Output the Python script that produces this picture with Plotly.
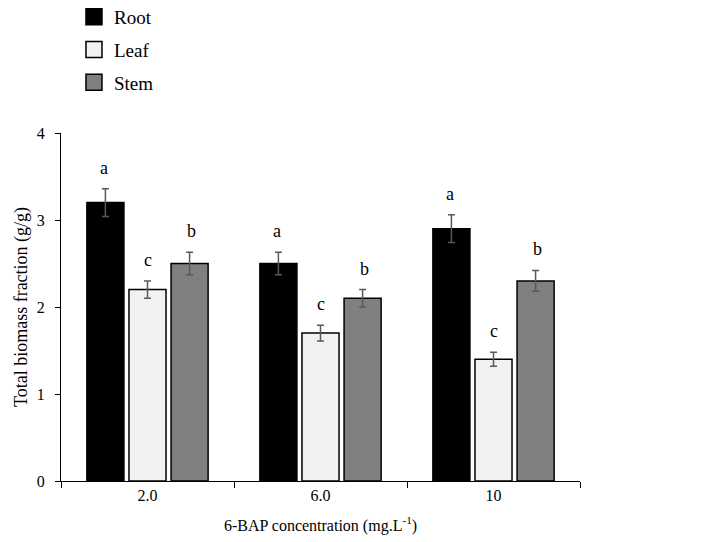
import plotly.graph_objects as go

# 6-BAP concentrations (mg/L)
concentrations = ["2.0", "6.0", "10"]

root = [3.2, 2.5, 2.9]
leaf = [2.2, 1.7, 1.4]
stem = [2.5, 2.1, 2.3]

root_err = [0.16, 0.13, 0.16]
leaf_err = [0.10, 0.09, 0.08]
stem_err = [0.13, 0.10, 0.12]

root_letters = ["a", "a", "a"]
leaf_letters = ["c", "c", "c"]
stem_letters = ["b", "b", "b"]

font = "Liberation Serif"

series = [
    ("Root", root, root_err, root_letters, "#000000", -1),
    ("Leaf", leaf, leaf_err, leaf_letters, "#f2f2f2", 0),
    ("Stem", stem, stem_err, stem_letters, "#808080", 1),
]

fig = go.Figure()

for name, vals, errs, letters, color, pos in series:
    fig.add_trace(go.Bar(
        x=concentrations, y=vals, name=name, showlegend=False,
        marker=dict(color=color, line=dict(color="black", width=1.5)),
        error_y=dict(type="data", array=errs, color="#595959", thickness=1.5, width=3.5),
    ))
    # legend entry with a bigger square swatch
    fig.add_trace(go.Scatter(
        x=[concentrations[0]], y=[None], mode="markers", name=name, legendgroup=name,
        marker=dict(symbol="square", size=22, color=color, line=dict(color="black", width=1.5)),
    ))
    for i, (v, e, lt) in enumerate(zip(vals, errs, letters)):
        fig.add_annotation(
            x=i, y=v + e, text=lt, showarrow=False, xref="x", yref="y",
            xshift=pos * 44, yshift=9, yanchor="bottom",
            font=dict(family=font, size=18, color="black"),
        )

fig.update_layout(
    width=702, height=542,
    margin=dict(l=53, r=130, t=125, b=69, autoexpand=False),
    paper_bgcolor="white", plot_bgcolor="white",
    font=dict(family=font, color="black"),
    barmode="group", bargap=0.27, bargroupgap=0.12,
    legend=dict(
        x=0.025, y=1.388, xanchor="left", yanchor="top",
        font=dict(family=font, size=19, color="black"),
        tracegroupgap=5, itemwidth=30, itemsizing="trace", bgcolor="rgba(0,0,0,0)",
    ),
)

fig.update_xaxes(
    type="category", categoryorder="array", categoryarray=concentrations,
    range=[-0.5, 2.5], tickson="boundaries", ticks="outside", ticklen=6,
    showline=True, linecolor="black", linewidth=1, tickcolor="black",
    tickfont=dict(family=font, size=16, color="black"),
    title_text="6-BAP concentration (mg.L<sup>-1</sup>)",
    title_font=dict(family=font, size=16, color="black"),
    title_standoff=16,
    showgrid=False,
)
fig.update_yaxes(
    range=[0, 4], dtick=1, ticks="outside", ticklen=5, ticklabelstandoff=7,
    showline=True, linecolor="black", linewidth=1, tickcolor="black",
    tickfont=dict(family=font, size=16, color="black"),
    title_text="Total biomass fraction (g/g)",
    title_font=dict(family=font, size=18, color="black"),
    title_standoff=4,
    showgrid=False, zeroline=False,
)

fig.write_html("out.html")
